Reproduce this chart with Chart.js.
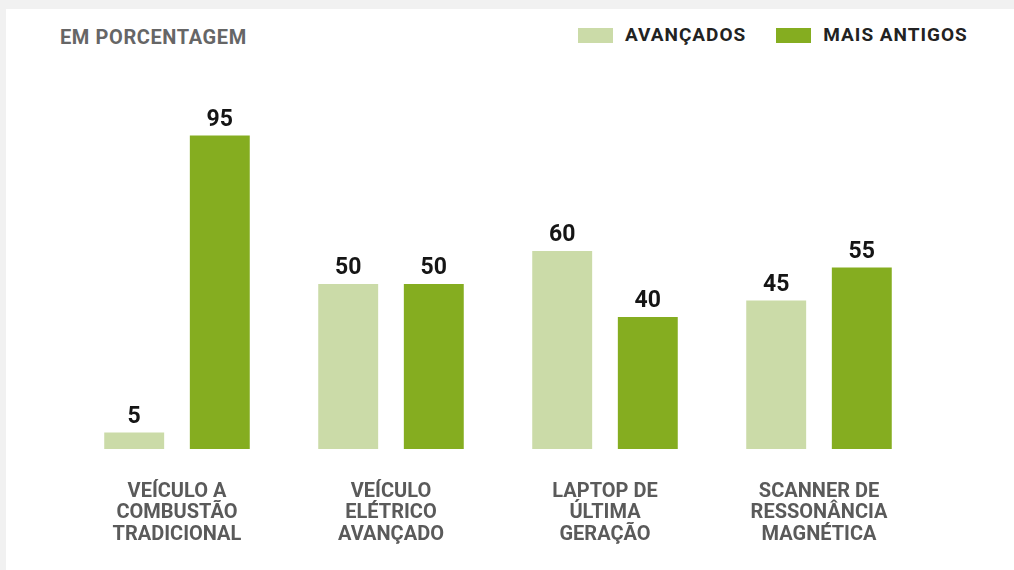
<!DOCTYPE html>
<html lang="pt">
<head>
<meta charset="utf-8">
<title>Em porcentagem</title>
<script src="https://cdn.jsdelivr.net/npm/chart.js@4/dist/chart.umd.min.js"></script>
<style>
  html, body { margin: 0; padding: 0; }
  body { width: 1014px; height: 570px; background: #f1f1f1; position: relative; overflow: hidden; font-family: Roboto, "Open Sans", sans-serif; }
  .panel { position: absolute; left: 6px; top: 9px; width: 1008px; height: 561px; background: #fff; }
  .chart-box { position: absolute; left: 0; top: 0; width: 1008px; height: 561px; }
  .unit { position: absolute; left: 54px; top: 18px; font-size: 20px; line-height: 20px; font-weight: 700; color: #666; letter-spacing: 0.6px; }
  #legend { position: absolute; left: 572px; top: 16px; display: flex; align-items: center; }
  #legend .item { display: flex; align-items: center; margin-right: 30px; }
  #legend .swatch { width: 35px; height: 15px; margin-right: 12px; }
  #legend .label { font-size: 19px; line-height: 20px; font-weight: 700; color: #222; letter-spacing: 1px; }
</style>
</head>
<body>
<div class="panel">
  <div class="unit">EM PORCENTAGEM</div>
  <div id="legend"></div>
  <div class="chart-box"><canvas id="myChart"></canvas></div>
</div>
<script>
// categorias (uma linha por item do array)
var categories = [
  ['VEÍCULO A', 'COMBUSTÃO', 'TRADICIONAL'],
  ['VEÍCULO', 'ELÉTRICO', 'AVANÇADO'],
  ['LAPTOP DE', 'ÚLTIMA', 'GERAÇÃO'],
  ['SCANNER DE', 'RESSONÂNCIA', 'MAGNÉTICA']
];
var avancados = [5, 50, 60, 45];
var maisAntigos = [95, 50, 40, 55];
var seriesNames = ['AVANÇADOS', 'MAIS ANTIGOS'];

var lightGreen = '#cbdba8';
var darkGreen = '#85ad20';

// escreve o valor em cima de cada barra
var valueLabels = {
  id: 'valueLabels',
  afterDatasetsDraw: function(chart) {
    var ctx = chart.ctx;
    ctx.save();
    ctx.font = 'bold 23px Roboto, sans-serif';
    ctx.fillStyle = '#151515';
    ctx.textAlign = 'center';
    ctx.textBaseline = 'alphabetic';
    chart.data.datasets.forEach(function(ds, i) {
      chart.getDatasetMeta(i).data.forEach(function(bar, j) {
        ctx.fillText(ds.data[j], bar.x, bar.y - 10);
      });
    });
    ctx.restore();
  }
};

var ctx = document.getElementById('myChart').getContext('2d');

var chart = new Chart(ctx, {
  type: 'bar',
  data: {
    labels: categories,
    datasets: [{
      label: seriesNames[0],
      backgroundColor: lightGreen,
      data: avancados
    },
    {
      label: seriesNames[1],
      backgroundColor: darkGreen,
      data: maisAntigos
    }]
  },
  options: {
    responsive: true,
    maintainAspectRatio: false,
    animation: false,
    categoryPercentage: 0.8,
    barPercentage: 0.7,
    layout: {
      padding: { left: 64, right: 88, top: 110, bottom: 0 }
    },
    plugins: {
      legend: { display: false },
      tooltip: { enabled: false }
    },
    scales: {
      x: {
        grid: { display: false, drawTicks: false },
        border: { display: false },
        // altura fixa da faixa dos rótulos
        afterFit: function(scale) { scale.height = 121; },
        ticks: {
          padding: 32,
          color: '#5a5a5a',
          font: { family: 'Roboto, sans-serif', size: 20, weight: 'bold', lineHeight: 1.07 }
        }
      },
      y: {
        display: false,
        min: 0,
        max: 100
      }
    }
  },
  plugins: [valueLabels]
});

// legenda em HTML a partir dos datasets
var legendEl = document.getElementById('legend');
chart.data.datasets.forEach(function(ds) {
  var item = document.createElement('div');
  item.className = 'item';
  var sw = document.createElement('span');
  sw.className = 'swatch';
  sw.style.background = ds.backgroundColor;
  var txt = document.createElement('span');
  txt.className = 'label';
  txt.textContent = ds.label;
  item.appendChild(sw);
  item.appendChild(txt);
  legendEl.appendChild(item);
});
</script>
</body>
</html>
